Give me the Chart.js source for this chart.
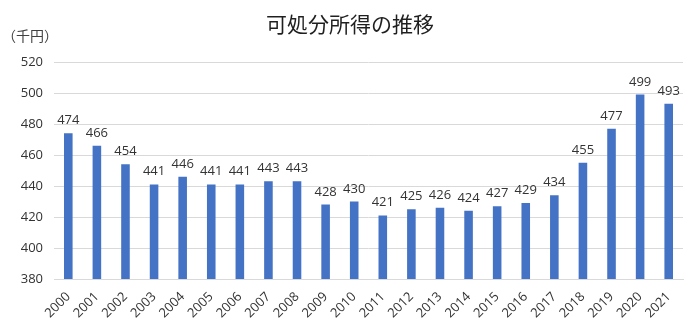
<!DOCTYPE html>
<html>
<head>
<meta charset="utf-8">
<script src="https://cdn.jsdelivr.net/npm/chart.js@4"></script>
<style>
  html, body { margin: 0; padding: 0; background: #fff; }
  #wrap { width: 700px; height: 323px; position: relative; }
</style>
</head>
<body>
<div id="wrap"><canvas id="c"></canvas></div>
<script>
var years = ['2000', '2001', '2002', '2003', '2004', '2005', '2006', '2007', '2008', '2009', '2010',
  '2011', '2012', '2013', '2014', '2015', '2016', '2017', '2018', '2019', '2020', '2021'];
var income = [474, 466, 454, 441, 446, 441, 441, 443, 443, 428, 430,
  421, 425, 426, 424, 427, 429, 434, 455, 477, 499, 493];
var yTicks = [380, 400, 420, 440, 460, 480, 500, 520];

var titleText = '可処分所得の推移';
var unitText = '（千円）';
var numFont = '"Open Sans", "Noto Sans", sans-serif';
var jpFont = '"Noto Sans CJK JP", sans-serif';

// value labels above each bar, plus the title and unit caption
var labelPlugin = {
  id: 'barLabels',
  afterDatasetsDraw: function(chart) {
    var ctx = chart.ctx;
    var meta = chart.getDatasetMeta(0);
    ctx.save();
    ctx.fillStyle = '#333333';
    ctx.font = '13px ' + numFont;
    ctx.textAlign = 'center';
    ctx.textBaseline = 'alphabetic';
    for (var i = 0; i < meta.data.length; i++) {
      var bar = meta.data[i];
      ctx.fillText(String(income[i]), bar.x, bar.y - 9);
    }
    ctx.font = '21px ' + jpFont;
    ctx.fillStyle = '#1f1f1f';
    ctx.textBaseline = 'middle';
    ctx.fillText(titleText, 350, 24);
    ctx.font = '14px ' + jpFont;
    ctx.fillStyle = '#404040';
    ctx.textAlign = 'left';
    ctx.fillText(unitText, 2, 36);
    ctx.restore();
  }
};

new Chart(document.getElementById('c'), {
  type: 'bar',
  data: {
    labels: years,
    datasets: [{
      data: income,
      backgroundColor: '#4472C4',
      barPercentage: 0.6,
      categoryPercentage: 0.5
    }]
  },
  options: {
    responsive: true,
    maintainAspectRatio: false,
    animation: false,
    layout: { padding: { top: 62, right: 17, left: 0, bottom: 0 } },
    plugins: {
      legend: { display: false },
      tooltip: { enabled: false },
      title: { display: false }
    },
    scales: {
      x: {
        grid: { display: false },
        border: { color: '#d9d9d9' },
        ticks: {
          color: '#333333',
          font: { family: numFont, size: 13 },
          maxRotation: 45,
          minRotation: 45,
          padding: 2
        },
        afterFit: function(s) { s.height = 44; }
      },
      y: {
        min: 380,
        max: 520,
        afterBuildTicks: function(s) {
          s.ticks = yTicks.map(function(v) { return { value: v }; });
        },
        grid: { color: '#d9d9d9', drawTicks: false },
        border: { display: false },
        ticks: {
          color: '#333333',
          font: { family: numFont, size: 13 },
          padding: 11
        },
        afterFit: function(s) { s.width = 54; }
      }
    }
  },
  plugins: [labelPlugin]
});
</script>
</body>
</html>
